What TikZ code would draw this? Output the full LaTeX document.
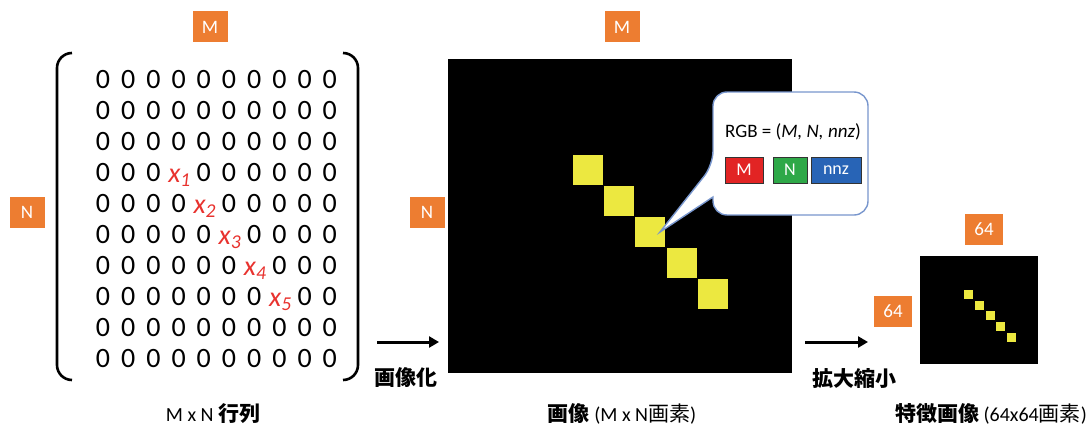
\documentclass[tikz,border=0pt]{standalone}
\usepackage{fontspec}
\setmainfont{Carlito}
\newfontfamily\jp{Noto Sans CJK JP}
\usetikzlibrary{arrows.meta}
\definecolor{orng}{RGB}{237,125,49}
\definecolor{ylw}{RGB}{236,232,64}
\definecolor{xred}{RGB}{232,50,46}
\definecolor{bxred}{RGB}{226,36,36}
\definecolor{bxgreen}{RGB}{46,168,72}
\definecolor{bxblue}{RGB}{40,100,182}
\definecolor{callb}{RGB}{120,150,205}
\begin{document}
\begin{tikzpicture}[x=1pt,y=-1pt,
  tag/.style={fill=orng,text=white,minimum width=35pt,minimum height=31pt,inner sep=0pt,font=\fontsize{19}{19}\selectfont},
  zero/.style={font=\fontsize{28}{28}\selectfont,inner sep=0pt},
  xval/.style={text=xred,font=\fontsize{28}{28}\selectfont\itshape,inner sep=0pt},
  ysq/.style={fill=ylw,minimum size=30pt,inner sep=0pt},
  ysmall/.style={fill=ylw,minimum size=9pt,inner sep=0pt},
  brk/.style={line width=2.6pt,rounded corners=15pt},
  bigarrow/.style={line width=3pt,-{Triangle[length=10pt,width=11pt]}},
  lbl/.style={font=\fontsize{20}{20}\selectfont,inner sep=0pt},
  jplbl/.style={font=\fontsize{21}{21}\selectfont\jp\bfseries,inner sep=0pt},
  rgbbox/.style={draw=black!80,line width=0.8pt,text=white,minimum height=26pt,inner sep=0pt,font=\fontsize{18}{18}\selectfont},
  callout/.style={fill=white,draw=callb,line width=1.4pt}
]
\useasboundingbox (0,0) rectangle (1091,428);

% ---------- matrix ----------
\node[tag] (mtop) at (210,27) {M};
\node[tag] (nleft) at (27,212) {N};
\draw[brk] (72,53) -- (57,53) -- (57,380) -- (72,380);
\draw[brk] (343,53) -- (358,53) -- (358,380) -- (343,380);
\foreach \r in {0,...,9}{
  \foreach \c in {0,...,9}{
    \pgfmathtruncatemacro{\skipit}{(\r==\c && \r>=3 && \r<=7) ? 1 : 0}
    \ifnum\skipit=0
      \node[zero] (z-\r-\c) at ({103+25.2*\c},{80+31*\r}) {0};
    \fi
  }
}
\foreach \i/\k in {3/1,4/2,5/3,6/4,7/5}{
  \node[xval,anchor=base] (x\k) at ({103+25.2*\i+1},{80+31*\i+9}) {x\textsubscript{\k}};
}
\node[lbl] (lmat) at (213,414) {M x N {\jp\bfseries\fontsize{21}{21}\selectfont 行列}};

% ---------- big image ----------
\node[tag] (mtop2) at (622,27) {M};
\node[tag] (nleft2) at (427,212) {N};
\node[fill=black,minimum width=344pt,minimum height=314pt,inner sep=0pt] (img) at (620,216) {};
\foreach \i in {0,...,4}{
  \node[ysq] (sq\i) at ({588+31.2*\i},{169.5+31.2*\i}) {};
}
\coordinate (tip) at (660,232);
\draw[callout] (tip) -- (713,197) [rounded corners=14pt] -- (713,215) -- (868,215) -- (868,92) -- (713,92) -- (713,165) [sharp corners] -- cycle;
\node[font=\fontsize{19}{19}\selectfont,inner sep=0pt] (rgb) at (793,132) {RGB = (\textit{M, N, nnz})};
\node[rgbbox,fill=bxred,minimum width=38pt] (bm) at (744,170) {M};
\node[rgbbox,fill=bxgreen,minimum width=34pt] (bn) at (790,170) {N};
\node[rgbbox,fill=bxblue,minimum width=50pt] (bz) at (836,170) {nnz};
\node[lbl] (limg) at (622,414) {{\jp\bfseries\fontsize{21}{21}\selectfont 画像} (M x N{\jp\fontsize{21}{21}\selectfont 画素})};

% ---------- arrows ----------
\coordinate (a1s) at (377,342);
\coordinate (a1e) at (439,342);
\draw[bigarrow] (a1s) -- (a1e);
\node[jplbl] (t1) at (406,378) {画像化};
\coordinate (a2s) at (805,342);
\coordinate (a2e) at (868,342);
\draw[bigarrow] (a2s) -- (a2e);
\node[jplbl] (t2) at (854,378) {拡大縮小};

% ---------- small image ----------
\node[tag,minimum width=38pt] (s64top) at (984,229) {64};
\node[tag,minimum width=38pt] (s64left) at (893,311) {64};
\node[fill=black,minimum width=118pt,minimum height=108pt,inner sep=0pt] (simg) at (979,310) {};
\foreach \i in {0,...,4}{
  \node[ysmall] (ss\i) at ({968.5+10.8*\i},{294.5+10.7*\i}) {};
}
\node[lbl] (lsimg) at (991,414) {{\jp\bfseries\fontsize{21}{21}\selectfont 特徴画像} ({64x64}{\jp\fontsize{21}{21}\selectfont 画素})};
\end{tikzpicture}
\end{document}
